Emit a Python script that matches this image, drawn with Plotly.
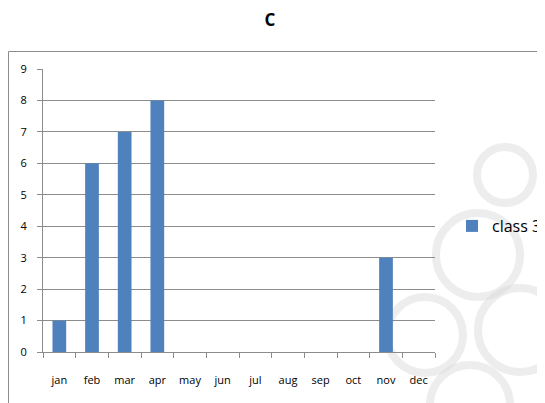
import plotly.graph_objects as go

months = ["jan", "feb", "mar", "apr", "may", "jun", "jul", "aug", "sep", "oct", "nov", "dec"]
class3 = [1, 6, 7, 8, 0, 0, 0, 0, 0, 0, 3, 0]
yticks = list(range(0, 10))

# the page body has an 8px margin, so work in page pixels shifted by OFF
OFF = 8
W, H = 545 - OFF, 403 - OFF
L, R, T, B = 43 - OFF, 110, 69 - OFF, 51
pw = W - L - R
ph = H - T - B

def px(x):
    return (x - OFF - L) / pw

def py(y):
    return (H - B - (y - OFF)) / ph

fig = go.Figure()
fig.add_trace(go.Bar(
    x=months, y=class3, name="class 3",
    marker=dict(color="#4F81BD", line=dict(width=0)),
))

shapes = []
# faint decorative watermark circles
for cx, cy, r in [(478, 255, 42), (425, 335, 38), (520, 330, 42), (470, 405, 40), (505, 175, 28)]:
    shapes.append(dict(type="circle", xref="paper", yref="paper",
                       x0=px(cx - r), x1=px(cx + r), y0=py(cy + r), y1=py(cy - r),
                       line=dict(color="rgba(215,215,215,0.45)", width=8), layer="below"))
# outer chart border (top and left edges; the rest runs off the page)
shapes.append(dict(type="line", xref="paper", yref="paper",
                   x0=px(8.5), x1=px(560), y0=py(51.5), y1=py(51.5),
                   line=dict(color="#8c8c8c", width=1), layer="below"))
shapes.append(dict(type="line", xref="paper", yref="paper",
                   x0=px(8.5), x1=px(8.5), y0=py(420), y1=py(51.5),
                   line=dict(color="#8c8c8c", width=1), layer="below"))

fig.update_layout(
    width=W, height=H,
    margin=dict(l=L, r=R, t=T, b=B, pad=0, autoexpand=False),
    paper_bgcolor="white", plot_bgcolor="rgba(0,0,0,0)",
    title=dict(text="<b>C</b>", x=(270 - OFF) / W, xanchor="center",
               y=1 - (20 - OFF) / H, yanchor="middle",
               font=dict(family="Open Sans", size=17, color="black")),
    bargap=0.58,
    showlegend=True,
    legend=dict(x=px(452), xanchor="left", y=py(226), yanchor="middle",
                font=dict(family="Open Sans", size=16, color="black"),
                bgcolor="rgba(0,0,0,0)", itemwidth=30),
    font=dict(family="Open Sans", size=11, color="black"),
    shapes=shapes,
    xaxis=dict(type="category", tickson="boundaries", ticks="outside", ticklen=5,
               tickcolor="#8c8c8c", showline=True, linecolor="#8c8c8c", linewidth=1,
               showgrid=False, tickfont=dict(size=11), tickangle=0, ticklabelstandoff=18),
    yaxis=dict(range=[0, 9], tickvals=yticks, ticks="outside", ticklen=5,
               tickcolor="#8c8c8c", showline=True, linecolor="#8c8c8c", linewidth=1,
               showgrid=True, gridcolor="#8c8c8c", gridwidth=1, zeroline=False,
               tickfont=dict(size=11), ticklabelstandoff=8),
)

fig.write_html("out.html")
